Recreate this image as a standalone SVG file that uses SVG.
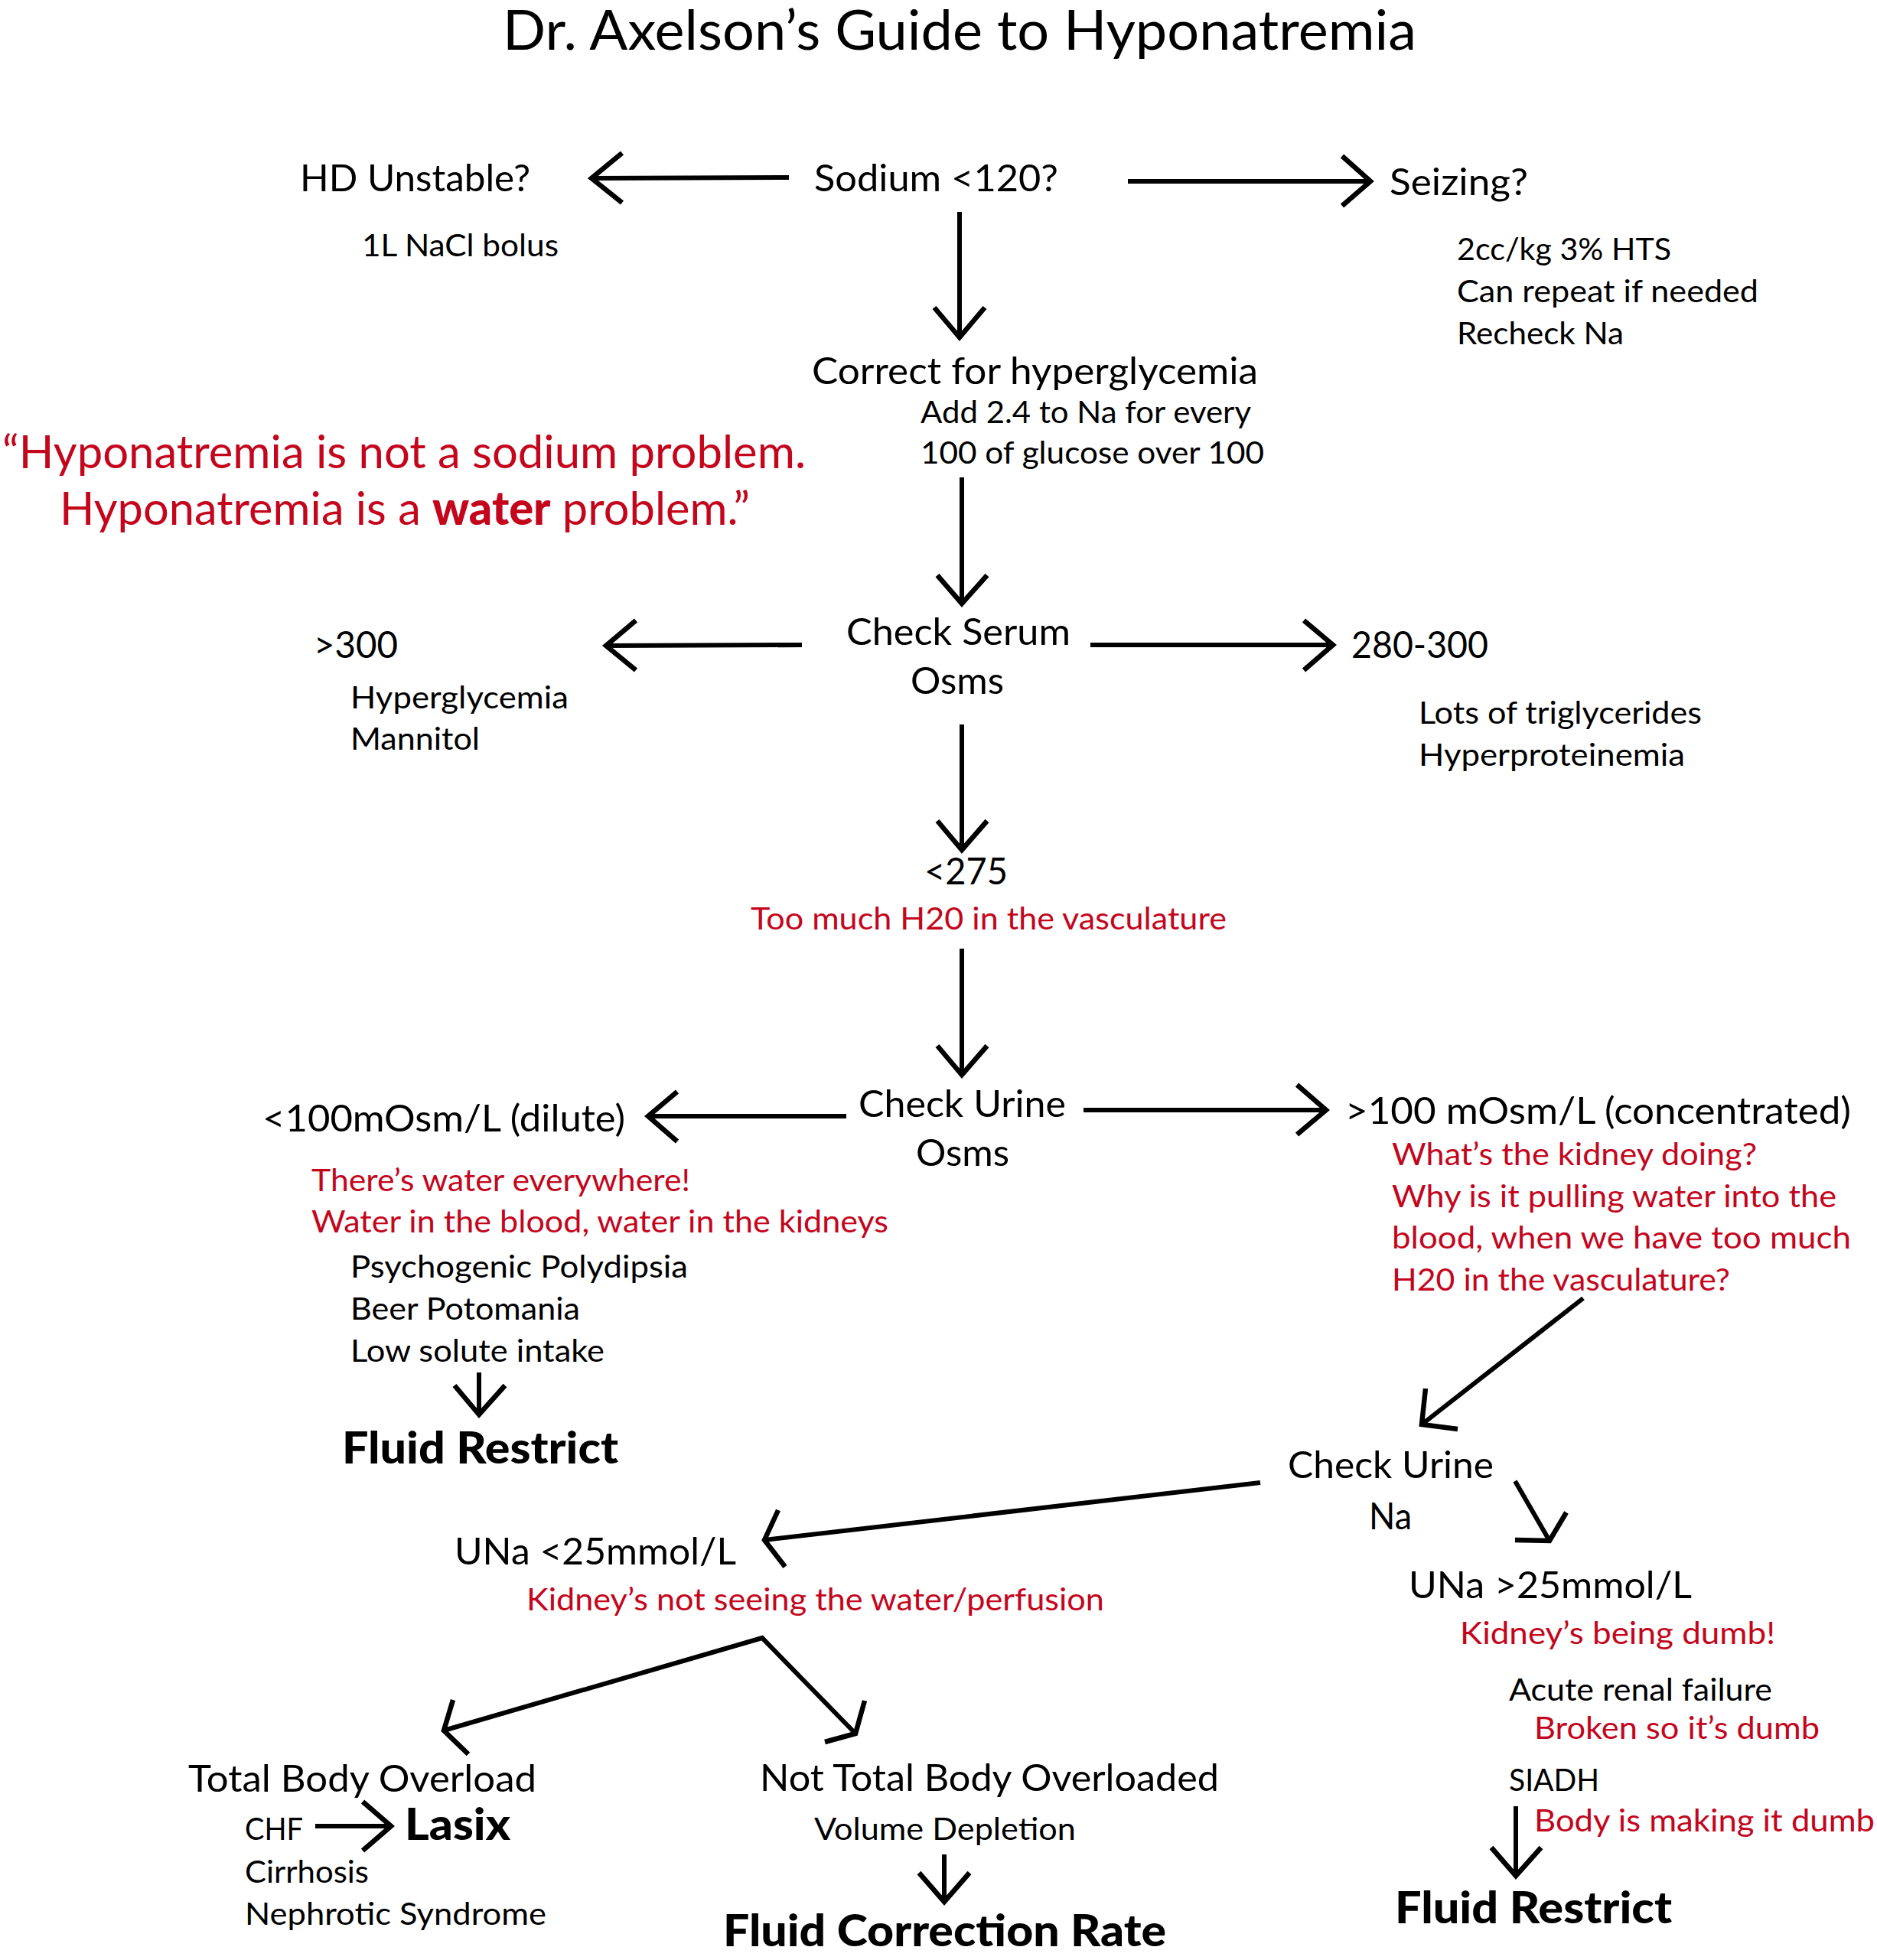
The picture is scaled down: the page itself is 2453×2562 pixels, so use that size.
<svg xmlns="http://www.w3.org/2000/svg" width="2453" height="2562" viewBox="0 0 2453 2562">
<style>
text{font-family:Lato,"Open Sans","Liberation Sans",sans-serif;fill:#000}
.t{font-size:71px}
.q{font-size:60px;fill:#c4061d}
.m{font-size:48px}
.s{font-size:41px}
.r{fill:#c4061d}
.b{font-size:57px;font-weight:900}
.bw{font-weight:900}
.ln{stroke:#000;stroke-width:6;fill:none;stroke-linecap:butt}
.hd{stroke:#000;stroke-width:6.5;fill:none;stroke-linejoin:miter;stroke-miterlimit:10}
</style>
<rect width="2453" height="2562" fill="#fff"/>
<g id="title"><text class="t" x="657" y="65" textLength="1194" lengthAdjust="spacingAndGlyphs">Dr. Axelson’s Guide to Hyponatremia</text></g>
<g id="quote">
<text class="q" x="3" y="612" textLength="1050" lengthAdjust="spacingAndGlyphs">“Hyponatremia is not a sodium problem.</text>
<text class="q" x="78" y="686" textLength="902" lengthAdjust="spacingAndGlyphs">Hyponatremia is a <tspan class="bw">water</tspan> problem.”</text>
</g>
<g id="sodium"><text class="m" x="1064" y="250" textLength="319" lengthAdjust="spacingAndGlyphs">Sodium &lt;120?</text></g>
<g id="hd-unstable">
<text class="m" x="392" y="250" textLength="301" lengthAdjust="spacingAndGlyphs">HD Unstable?</text>
<text class="s" x="473" y="335" textLength="257" lengthAdjust="spacingAndGlyphs">1L NaCl bolus</text>
</g>
<g id="seizing">
<text class="m" x="1816" y="255" textLength="181" lengthAdjust="spacingAndGlyphs">Seizing?</text>
<text class="s" x="1904" y="340" textLength="280" lengthAdjust="spacingAndGlyphs">2cc/kg 3% HTS</text>
<text class="s" x="1904" y="395" textLength="394" lengthAdjust="spacingAndGlyphs">Can repeat if needed</text>
<text class="s" x="1904" y="450" textLength="218" lengthAdjust="spacingAndGlyphs">Recheck Na</text>
</g>
<g id="correct">
<text class="m" x="1061" y="502" textLength="583" lengthAdjust="spacingAndGlyphs">Correct for hyperglycemia</text>
<text class="s" x="1203" y="553" textLength="432" lengthAdjust="spacingAndGlyphs">Add 2.4 to Na for every</text>
<text class="s" x="1203" y="606" textLength="449" lengthAdjust="spacingAndGlyphs">100 of glucose over 100</text>
</g>
<g id="serum-osms">
<text class="m" x="1106" y="843" textLength="293" lengthAdjust="spacingAndGlyphs">Check Serum</text>
<text class="m" x="1190" y="907" textLength="122" lengthAdjust="spacingAndGlyphs">Osms</text>
</g>
<g id="gt300">
<text class="m" x="410" y="860" textLength="110" lengthAdjust="spacingAndGlyphs">&gt;300</text>
<text class="s" x="458" y="926" textLength="285" lengthAdjust="spacingAndGlyphs">Hyperglycemia</text>
<text class="s" x="458" y="980" textLength="169" lengthAdjust="spacingAndGlyphs">Mannitol</text>
</g>
<g id="r280-300">
<text class="m" x="1766" y="860" textLength="179" lengthAdjust="spacingAndGlyphs">280-300</text>
<text class="s" x="1854" y="946" textLength="370" lengthAdjust="spacingAndGlyphs">Lots of triglycerides</text>
<text class="s" x="1854" y="1001" textLength="348" lengthAdjust="spacingAndGlyphs">Hyperproteinemia</text>
</g>
<g id="lt275">
<text class="m" x="1208" y="1156" textLength="109" lengthAdjust="spacingAndGlyphs">&lt;275</text>
<text class="s r" x="981" y="1215" textLength="622" lengthAdjust="spacingAndGlyphs">Too much H20 in the vasculature</text>
</g>
<g id="urine-osms">
<text class="m" x="1122" y="1460" textLength="271" lengthAdjust="spacingAndGlyphs">Check Urine</text>
<text class="m" x="1197" y="1524" textLength="122" lengthAdjust="spacingAndGlyphs">Osms</text>
</g>
<g id="dilute">
<text class="m" x="343" y="1479" textLength="474" lengthAdjust="spacingAndGlyphs">&lt;100mOsm/L (dilute)</text>
<text class="s r" x="407" y="1557" textLength="495" lengthAdjust="spacingAndGlyphs">There’s water everywhere!</text>
<text class="s r" x="407" y="1611" textLength="754" lengthAdjust="spacingAndGlyphs">Water in the blood, water in the kidneys</text>
<text class="s" x="458" y="1670" textLength="441" lengthAdjust="spacingAndGlyphs">Psychogenic Polydipsia</text>
<text class="s" x="458" y="1725" textLength="300" lengthAdjust="spacingAndGlyphs">Beer Potomania</text>
<text class="s" x="458" y="1780" textLength="332" lengthAdjust="spacingAndGlyphs">Low solute intake</text>
</g>
<g id="fluid-restrict-1"><text class="b" x="447" y="1913" textLength="361" lengthAdjust="spacingAndGlyphs">Fluid Restrict</text></g>
<g id="concentrated">
<text class="m" x="1758" y="1469" textLength="661" lengthAdjust="spacingAndGlyphs">&gt;100 mOsm/L (concentrated)</text>
<text class="s r" x="1819" y="1523" textLength="477" lengthAdjust="spacingAndGlyphs">What’s the kidney doing?</text>
<text class="s r" x="1819" y="1578" textLength="581" lengthAdjust="spacingAndGlyphs">Why is it pulling water into the</text>
<text class="s r" x="1819" y="1632" textLength="600" lengthAdjust="spacingAndGlyphs">blood, when we have too much</text>
<text class="s r" x="1819" y="1687" textLength="442" lengthAdjust="spacingAndGlyphs">H20 in the vasculature?</text>
</g>
<g id="urine-na">
<text class="m" x="1683" y="1932" textLength="269" lengthAdjust="spacingAndGlyphs">Check Urine</text>
<text class="m" x="1789" y="1999" textLength="56" lengthAdjust="spacingAndGlyphs">Na</text>
</g>
<g id="una-lt25">
<text class="m" x="594" y="2045" textLength="368" lengthAdjust="spacingAndGlyphs">UNa &lt;25mmol/L</text>
<text class="s r" x="688" y="2105" textLength="755" lengthAdjust="spacingAndGlyphs">Kidney’s not seeing the water/perfusion</text>
</g>
<g id="una-gt25">
<text class="m" x="1841" y="2089" textLength="370" lengthAdjust="spacingAndGlyphs">UNa &gt;25mmol/L</text>
<text class="s r" x="1908" y="2149" textLength="412" lengthAdjust="spacingAndGlyphs">Kidney’s being dumb!</text>
<text class="s" x="1972" y="2223" textLength="344" lengthAdjust="spacingAndGlyphs">Acute renal failure</text>
<text class="s r" x="2005" y="2273" textLength="373" lengthAdjust="spacingAndGlyphs">Broken so it’s dumb</text>
<text class="s" x="1972" y="2341" textLength="118" lengthAdjust="spacingAndGlyphs">SIADH</text>
<text class="s r" x="2005" y="2394" textLength="445" lengthAdjust="spacingAndGlyphs">Body is making it dumb</text>
</g>
<g id="fluid-restrict-2"><text class="b" x="1823" y="2514" textLength="362" lengthAdjust="spacingAndGlyphs">Fluid Restrict</text></g>
<g id="total-body">
<text class="m" x="246" y="2342" textLength="455" lengthAdjust="spacingAndGlyphs">Total Body Overload</text>
<text class="s" x="320" y="2405" textLength="76" lengthAdjust="spacingAndGlyphs">CHF</text>
<text class="s" x="320" y="2461" textLength="162" lengthAdjust="spacingAndGlyphs">Cirrhosis</text>
<text class="s" x="320" y="2516" textLength="394" lengthAdjust="spacingAndGlyphs">Nephrotic Syndrome</text>
</g>
<g id="lasix"><text class="b" x="529" y="2405" textLength="138" lengthAdjust="spacingAndGlyphs">Lasix</text></g>
<g id="not-total-body">
<text class="m" x="993" y="2341" textLength="600" lengthAdjust="spacingAndGlyphs">Not Total Body Overloaded</text>
<text class="s" x="1064" y="2405" textLength="342" lengthAdjust="spacingAndGlyphs">Volume Depletion</text>
</g>
<g id="fluid-correction"><text class="b" x="945" y="2544" textLength="579" lengthAdjust="spacingAndGlyphs">Fluid Correction Rate</text></g>
<g id="connectors">
<line class="ln" x1="1031" y1="232" x2="773" y2="233"/>
<polyline class="hd" points="813,200 773,233 813,265"/>
<line class="ln" x1="1474" y1="237" x2="1791" y2="237"/>
<polyline class="hd" points="1754,204 1791,237 1754,269"/>
<line class="ln" x1="1254" y1="277" x2="1254" y2="441"/>
<polyline class="hd" points="1221,402 1254,441 1287,402"/>
<line class="ln" x1="1257" y1="624" x2="1257" y2="789"/>
<polyline class="hd" points="1225,752 1257,789 1290,752"/>
<line class="ln" x1="1048" y1="843" x2="792" y2="844"/>
<polyline class="hd" points="831,811 792,844 831,876"/>
<line class="ln" x1="1425" y1="843" x2="1742" y2="843"/>
<polyline class="hd" points="1704,811 1742,843 1704,876"/>
<line class="ln" x1="1257" y1="947" x2="1257" y2="1111"/>
<polyline class="hd" points="1225,1073 1257,1111 1290,1073"/>
<line class="ln" x1="1257" y1="1240" x2="1257" y2="1405"/>
<polyline class="hd" points="1225,1367 1257,1405 1290,1367"/>
<line class="ln" x1="1106" y1="1459" x2="847" y2="1459"/>
<polyline class="hd" points="885,1427 847,1459 885,1492"/>
<line class="ln" x1="1416" y1="1451" x2="1733" y2="1451"/>
<polyline class="hd" points="1695,1418 1733,1451 1695,1483"/>
<line class="ln" x1="2069" y1="1697" x2="1858" y2="1862"/>
<polyline class="hd" points="1863,1815 1858,1862 1905,1868"/>
<line class="ln" x1="626" y1="1794" x2="626" y2="1849"/>
<polyline class="hd" points="594,1811 626,1849 660,1811"/>
<line class="ln" x1="1647" y1="1938" x2="999" y2="2013"/>
<polyline class="hd" points="1017,1974 999,2013 1026,2048"/>
<line class="ln" x1="1980" y1="1936" x2="2025" y2="2014"/>
<polyline class="hd" points="2047,1977 2025,2014 1980,2013"/>
<polyline class="ln" points="580,2262 996,2141 1118,2266"/>
<polyline class="hd" points="592,2222 580,2262 612,2293"/>
<polyline class="hd" points="1130,2223 1118,2266 1078,2277"/>
<line class="ln" x1="412" y1="2387" x2="511" y2="2387"/>
<polyline class="hd" points="474,2355 511,2387 474,2419"/>
<line class="ln" x1="1234" y1="2424" x2="1234" y2="2486"/>
<polyline class="hd" points="1201,2448 1234,2486 1267,2448"/>
<line class="ln" x1="1981" y1="2361" x2="1981" y2="2452"/>
<polyline class="hd" points="1949,2415 1981,2452 2014,2415"/>
</g>
</svg>
